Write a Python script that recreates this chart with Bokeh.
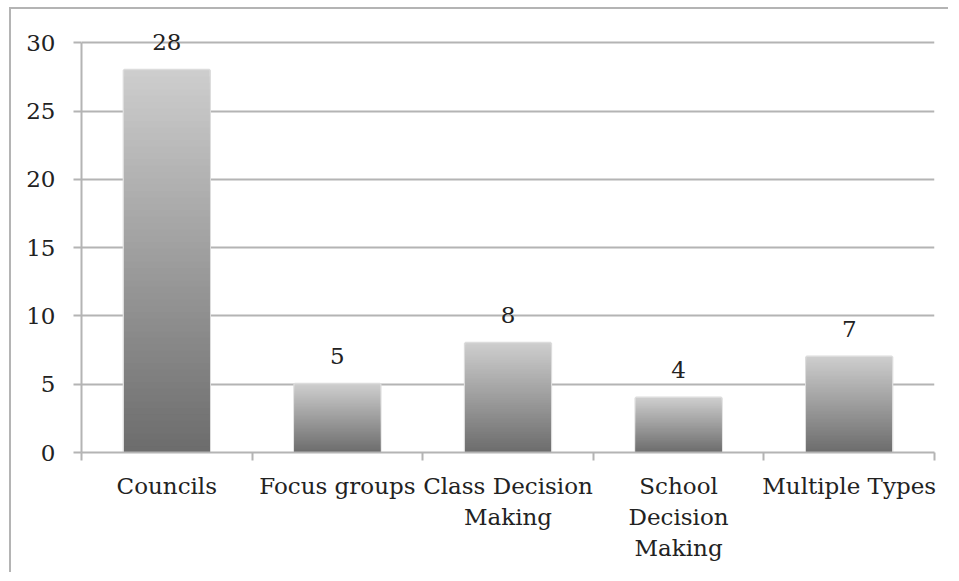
from bokeh.plotting import figure
from bokeh.models import FixedTicker, Range1d
from bokeh.core.properties import value
from bokeh.embed import file_html
from bokeh.resources import INLINE

categories = ["Councils", "Focus groups", "Class Decision\nMaking", "School\nDecision\nMaking", "Multiple Types"]
counts = [28, 5, 8, 4, 7]
y_ticks = [0, 5, 10, 15, 20, 25, 30]

FONT = "DejaVu Serif"
FS = "23px"
GRID = "#b4b4b4"

xs = list(range(1, len(categories) + 1))

p = figure(frame_width=853, frame_height=437,
           x_range=Range1d(0.5, len(categories) + 0.5), y_range=Range1d(0, 32),
           output_backend="svg", toolbar_location=None,
           min_border_left=70, min_border_top=6, min_border_right=14, min_border_bottom=120,
           margin=(7, 0, 0, 9),
           styles={"border-top": "2px solid #b4b4b4", "border-left": "2px solid #b4b4b4"})
p.outline_line_color = None
p.xgrid.visible = False
p.ygrid.grid_line_color = GRID
p.ygrid.grid_line_width = 2
p.ygrid.bounds = (0, 30)

# gradient bars: stacked slices from top (light) to bottom (dark)
N = 60
light = (0xcd, 0xcd, 0xcd)
dark = (0x6b, 0x6b, 0x6b)
p.quad(left=[x - 0.25 for x in xs], right=[x + 0.25 for x in xs], bottom=0, top=counts,
       fill_color="#6b6b6b", line_color="#dcdcdc", line_width=3)
for k in range(N, 0, -1):
    f = k / N
    c = tuple(int(round(dark[i] + (light[i] - dark[i]) * f)) for i in range(3))
    col = "#%02x%02x%02x" % c
    p.quad(left=[x - 0.25 for x in xs], right=[x + 0.25 for x in xs], bottom=0,
           top=[v * f for v in counts], fill_color=col, line_color=None)

p.text(x=xs, y=counts, text=[str(v) for v in counts], text_align="center",
       text_baseline="alphabetic", y_offset=-28, text_font=value(FONT),
       text_font_size=FS, text_color="#222222")

p.yaxis.ticker = FixedTicker(ticks=y_ticks)
p.yaxis.bounds = (0, 30)
p.yaxis.minor_tick_line_color = None
p.yaxis.major_tick_in = 0
p.yaxis.major_tick_out = 8
p.yaxis.major_tick_line_color = GRID
p.yaxis.major_tick_line_width = 2
p.yaxis.axis_line_color = GRID
p.yaxis.axis_line_width = 2
p.yaxis.major_label_standoff = 18
p.yaxis.major_label_text_font = FONT
p.yaxis.major_label_text_font_size = FS
p.yaxis.major_label_text_color = "#222222"

p.xaxis.ticker = FixedTicker(ticks=xs, minor_ticks=[x - 0.5 for x in xs] + [len(xs) + 0.5])
p.xaxis.major_label_overrides = {x: c for x, c in zip(xs, categories)}
p.xaxis.major_tick_line_color = None
p.xaxis.minor_tick_in = 0
p.xaxis.minor_tick_out = 8
p.xaxis.minor_tick_line_color = GRID
p.xaxis.minor_tick_line_width = 2
p.xaxis.axis_line_color = GRID
p.xaxis.axis_line_width = 2
p.xaxis.major_label_standoff = 12
p.xaxis.major_label_text_font = FONT
p.xaxis.major_label_text_font_size = FS
p.xaxis.major_label_text_color = "#222222"

open("out.html", "w").write(file_html(p, INLINE))
